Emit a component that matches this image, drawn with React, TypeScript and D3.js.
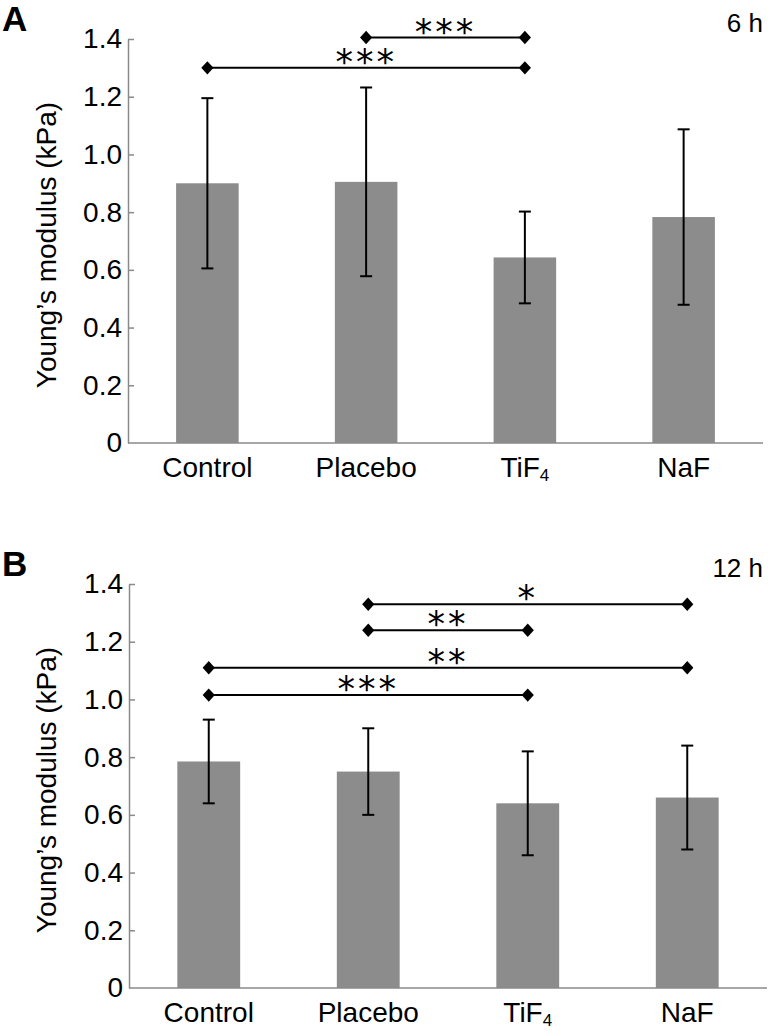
import { useRef, useEffect } from "react";
import * as d3 from "d3";

// groups on the x axis
const groups = ["Control", "Placebo", "TiF4", "NaF"];

// 6 h panel
const mean6h = [0.9, 0.905, 0.643, 0.783];
const err6h = [0.295, 0.327, 0.159, 0.304];

// 12 h panel
const mean12h = [0.785, 0.75, 0.64, 0.66];
const err12h = [0.145, 0.15, 0.18, 0.18];

const yTicks = [0, 0.2, 0.4, 0.6, 0.8, 1.0, 1.2, 1.4];

interface SigBar {
    from: number;
    to: number;
    level: number;
    label: string;
}

const sig6h: SigBar[] = [
    { from: 1, to: 2, level: 1.405, label: "***" },
    { from: 0, to: 2, level: 1.3, label: "***" },
];

const sig12h: SigBar[] = [
    { from: 1, to: 3, level: 1.33, label: "*" },
    { from: 1, to: 2, level: 1.24, label: "**" },
    { from: 0, to: 3, level: 1.11, label: "**" },
    { from: 0, to: 2, level: 1.015, label: "***" },
];

const FONT = "'Liberation Sans', Arial, Helvetica, sans-serif";

interface PanelOpts {
    letter: string;
    time: string;
    means: number[];
    errs: number[];
    sigs: SigBar[];
    top: number; // pixel of 1.4
    bottom: number; // pixel of 0
    left: number;
    right: number;
}

function drawPanel(svg: d3.Selection<SVGSVGElement, unknown, null, undefined>, p: PanelOpts) {
    const g = svg.append("g");

    const x = d3
        .scaleBand()
        .domain(groups)
        .range([p.left, p.right])
        .paddingInner(0.606)
        .paddingOuter(0.303);

    const y = d3.scaleLinear().domain([0, 1.4]).range([p.bottom, p.top]);

    const cx = (i: number) => x(groups[i])! + x.bandwidth() / 2;

    // bars
    g.append("g")
        .selectAll("rect")
        .data(p.means)
        .enter()
        .append("rect")
        .attr("x", (_, i) => x(groups[i])!)
        .attr("y", d => y(d))
        .attr("width", x.bandwidth())
        .attr("height", d => y(0) - y(d))
        .attr("fill", "#8c8c8c");

    // error bars
    const eb = g.append("g").attr("stroke", "#000").attr("stroke-width", 2);
    p.means.forEach((m, i) => {
        const e = p.errs[i];
        const c = cx(i);
        eb.append("line").attr("x1", c).attr("x2", c).attr("y1", y(m + e)).attr("y2", y(m - e));
        [m + e, m - e].forEach(v => {
            eb.append("line")
                .attr("x1", c - 6)
                .attr("x2", c + 6)
                .attr("y1", y(v))
                .attr("y2", y(v));
        });
    });

    // y axis
    const yAxis = g
        .append("g")
        .attr("transform", `translate(${p.left},0)`)
        .call(
            d3
                .axisLeft(y)
                .tickValues(yTicks)
                .tickSizeInner(-6)
                .tickSizeOuter(0)
                .tickPadding(6)
                .tickFormat(d => (Number(d) === 0 ? "0" : Number(d).toFixed(1)))
        );
    yAxis.select(".domain").attr("stroke", "#8a8a8a").attr("stroke-width", 1.5);
    yAxis.selectAll(".tick line").attr("stroke", "#8a8a8a").attr("stroke-width", 1.5);
    yAxis
        .selectAll(".tick text")
        .attr("font-family", FONT)
        .attr("font-size", 28)
        .attr("fill", "#000");
    yAxis.selectAll(".tick").filter(d => d === 0).select("line").remove();

    // x axis baseline
    g.append("line")
        .attr("x1", p.left)
        .attr("x2", p.right)
        .attr("y1", y(0))
        .attr("y2", y(0))
        .attr("stroke", "#8a8a8a")
        .attr("stroke-width", 1.5);

    // x labels (TiF4 gets a subscript)
    groups.forEach((name, i) => {
        const t = g
            .append("text")
            .attr("x", cx(i))
            .attr("y", y(0) + 34)
            .attr("text-anchor", "middle")
            .attr("font-family", FONT)
            .attr("font-size", 28)
            .attr("fill", "#000");
        if (name === "TiF4") {
            t.append("tspan").text("TiF");
            t.append("tspan").attr("font-size", 17).attr("dy", 4).text("4");
        } else {
            t.text(name);
        }
    });

    // y title
    g.append("text")
        .attr("transform", `translate(46,${(p.top + p.bottom) / 2 + 4}) rotate(-90)`)
        .attr("text-anchor", "middle")
        .attr("dominant-baseline", "central")
        .attr("font-family", FONT)
        .attr("font-size", 28)
        .attr("fill", "#000")
        .text("Young’s modulus (kPa)");

    // significance brackets
    const diamond = d3.symbol().type(d3.symbolDiamond2).size(95);
    p.sigs.forEach(s => {
        const x1 = cx(s.from);
        const x2 = cx(s.to);
        const yy = y(s.level);
        g.append("line")
            .attr("x1", x1)
            .attr("x2", x2)
            .attr("y1", yy)
            .attr("y2", yy)
            .attr("stroke", "#000")
            .attr("stroke-width", 2);
        [x1, x2].forEach(xx => {
            g.append("path")
                .attr("d", diamond()!)
                .attr("transform", `translate(${xx},${yy}) scale(1,1.1)`)
                .attr("fill", "#000");
        });
        g.append("text")
            .attr("x", (x1 + x2) / 2)
            .attr("y", yy + 6)
            .attr("text-anchor", "middle")
            .attr("font-family", "'DejaVu Sans', sans-serif")
            .attr("font-size", 35)
            .attr("letter-spacing", 3)
            .attr("fill", "#000")
            .text(s.label);
    });

    // panel letter and time label
    g.append("text")
        .attr("x", 2)
        .attr("y", p.top - 8)
        .attr("font-family", FONT)
        .attr("font-weight", "bold")
        .attr("font-size", 35)
        .attr("fill", "#000")
        .text(p.letter);

    g.append("text")
        .attr("x", 763)
        .attr("y", p.top - 7)
        .attr("text-anchor", "end")
        .attr("font-family", FONT)
        .attr("font-size", 26)
        .attr("fill", "#000")
        .text(p.time);
}

export default function App() {
    const svgRef = useRef<SVGSVGElement | null>(null);

    useEffect(() => {
        if (!svgRef.current) return;
        const svg = d3.select(svgRef.current);
        svg.selectAll("*").remove();

        drawPanel(svg, {
            letter: "A",
            time: "6 h",
            means: mean6h,
            errs: err6h,
            sigs: sig6h,
            top: 39,
            bottom: 443,
            left: 128,
            right: 763,
        });

        drawPanel(svg, {
            letter: "B",
            time: "12 h",
            means: mean12h,
            errs: err12h,
            sigs: sig12h,
            top: 584,
            bottom: 988,
            left: 129,
            right: 767,
        });
    }, []);

    return (
        <svg
            ref={svgRef}
            width={771}
            height={1031}
            style={{ position: "absolute", left: 0, top: 0, background: "#fff" }}
        />
    );
}
